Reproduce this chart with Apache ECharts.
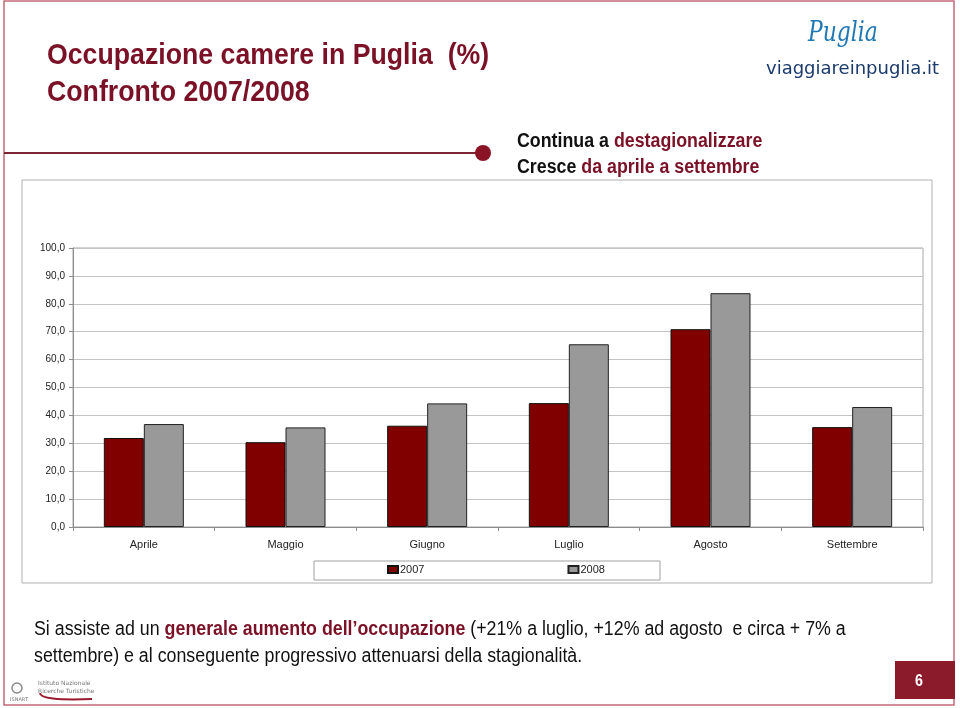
<!DOCTYPE html>
<html>
<head>
<meta charset="utf-8">
<script src="https://cdn.jsdelivr.net/npm/echarts@6/dist/echarts.min.js"></script>
<style>
html,body{margin:0;padding:0;background:#fff;}
#chart{width:960px;height:708px;}
</style>
</head>
<body>
<div id="chart"></div>
<script>
const categories = ['Aprile', 'Maggio', 'Giugno', 'Luglio', 'Agosto', 'Settembre'];
const values2007 = [31.9, 30.4, 36.3, 44.4, 70.9, 35.8];
const values2008 = [36.9, 35.7, 44.3, 65.5, 83.8, 43.0];
const seriesNames = ['2007', '2008'];
const yTicks = { min: 0, max: 100, interval: 10 };

const SANS = '"Liberation Sans", Arial, sans-serif';
const RED = '#7B1126';
const NX = 0.89; // horizontal condensation to mimic a narrow face
const chart = echarts.init(document.getElementById('chart'), null, { renderer: 'canvas' });

function ntext(x, y, style, sx) {
  return { type: 'text', x: x, y: y, scaleX: sx || NX, scaleY: 1,
    style: Object.assign({ verticalAlign: 'middle', align: 'left' }, style) };
}

chart.setOption({
  backgroundColor: '#ffffff',
  animation: false,
  grid: { left: 73, right: 37, top: 248, bottom: 181, show: true, borderColor: '#a6a6a6', borderWidth: 1, backgroundColor: 'transparent' },
  legend: {
    data: seriesNames,
    left: 387, top: 564, padding: 0,
    itemWidth: 10, itemHeight: 7, itemGap: 143,
    icon: 'rect',
    textStyle: { fontFamily: SANS, fontSize: 11, color: '#222', padding: [0, 0, 0, -3] }
  },
  xAxis: {
    type: 'category',
    data: categories,
    axisLine: { lineStyle: { color: '#8c8c8c' } },
    axisTick: { show: true, length: 4, lineStyle: { color: '#8c8c8c' } },
    axisLabel: { fontFamily: SANS, fontSize: 11, color: '#222', margin: 12 }
  },
  yAxis: {
    type: 'value',
    min: yTicks.min, max: yTicks.max, interval: yTicks.interval,
    axisLine: { show: true, lineStyle: { color: '#8c8c8c' } },
    axisTick: { show: true, length: 4, lineStyle: { color: '#8c8c8c' } },
    splitLine: { lineStyle: { color: '#c4c4c4', width: 1 } },
    axisLabel: { fontFamily: SANS, fontSize: 10, color: '#222', margin: 8,
      formatter: v => v.toFixed(1).replace('.', ',') }
  },
  series: [
    { name: seriesNames[0], type: 'bar', data: values2007, barWidth: 40, barGap: '0%',
      itemStyle: { color: '#800000', borderColor: '#111', borderWidth: 1 } },
    { name: seriesNames[1], type: 'bar', data: values2008, barWidth: 40,
      itemStyle: { color: '#999999', borderColor: '#222', borderWidth: 1 } }
  ],
  graphic: [
    { type: 'rect', shape: { x: 4, y: 1, width: 950, height: 704 }, style: { fill: 'none', stroke: '#c46a78', lineWidth: 1.5 }, silent: true },
    { type: 'rect', shape: { x: 22, y: 180, width: 910, height: 403 }, style: { fill: 'none', stroke: '#b0b0b0', lineWidth: 1 }, silent: true },
    { type: 'rect', shape: { x: 314, y: 561, width: 346, height: 19 }, style: { fill: 'none', stroke: '#a0a0a0', lineWidth: 1 }, silent: true },
    ntext(47, 56, { text: 'Occupazione camere in Puglia  (%)', fill: RED, font: 'bold 30px ' + SANS }),
    ntext(47, 93, { text: 'Confronto 2007/2008', fill: RED, font: 'bold 30px ' + SANS }),
    { type: 'line', shape: { x1: 4, y1: 153, x2: 480, y2: 153 }, style: { stroke: '#7b2535', lineWidth: 2 } },
    { type: 'circle', shape: { cx: 483, cy: 153, r: 8 }, style: { fill: '#8a1426' } },
    ntext(517, 141, { text: '{k|Continua a }{r|destagionalizzare}',
        rich: { k: { fill: '#111', font: 'bold 20px ' + SANS }, r: { fill: RED, font: 'bold 20px ' + SANS } } }),
    ntext(517, 167, { text: '{k|Cresce }{r|da aprile a settembre}',
        rich: { k: { fill: '#111', font: 'bold 20px ' + SANS }, r: { fill: RED, font: 'bold 20px ' + SANS } } }),
    ntext(808, 34, { text: 'Puglia', fill: '#1f77b4', font: 'italic 28px "DejaVu Serif", serif' }, 0.78),
    { type: 'text', x: 766, y: 69, style: { text: 'viaggiareinpuglia.it', fill: '#1b3a6b', font: '18px "DejaVu Sans", sans-serif', verticalAlign: 'middle' } },
    ntext(34, 629, { text: '{k|Si assiste ad un }{r|generale aumento dell\u2019occupazione}{k| (+21% a luglio, +12% ad agosto  e circa + 7% a}',
        rich: { k: { fill: '#111', font: '20px ' + SANS }, r: { fill: RED, font: 'bold 20px ' + SANS } } }),
    ntext(34, 656, { text: 'settembre) e al conseguente progressivo attenuarsi della stagionalit\u00e0.', fill: '#111', font: '20px ' + SANS }),
    { type: 'rect', shape: { x: 895, y: 661, width: 60, height: 38 }, style: { fill: '#8b1a2a' } },
    ntext(915, 682, { text: '6', fill: '#fff', font: 'bold 16px ' + SANS }),
    { type: 'text', x: 38, y: 679, style: { text: 'Istituto Nazionale\nRicerche Turistiche', fill: '#777', font: '6px "DejaVu Sans", sans-serif', lineHeight: 8 } },
    { type: 'bezierCurve', shape: { x1: 40, y1: 693, cpx1: 40, cpy1: 701, x2: 92, y2: 699 }, style: { fill: 'none', stroke: '#9a1b2e', lineWidth: 2 } },
    { type: 'circle', shape: { cx: 17, cy: 688, r: 5 }, style: { fill: 'none', stroke: '#8a8a8a', lineWidth: 1.5 } },
    { type: 'text', x: 10, y: 697, style: { text: 'ISNART', fill: '#777', font: '5px "DejaVu Sans", sans-serif' } }
  ]
});
</script>
</body>
</html>
